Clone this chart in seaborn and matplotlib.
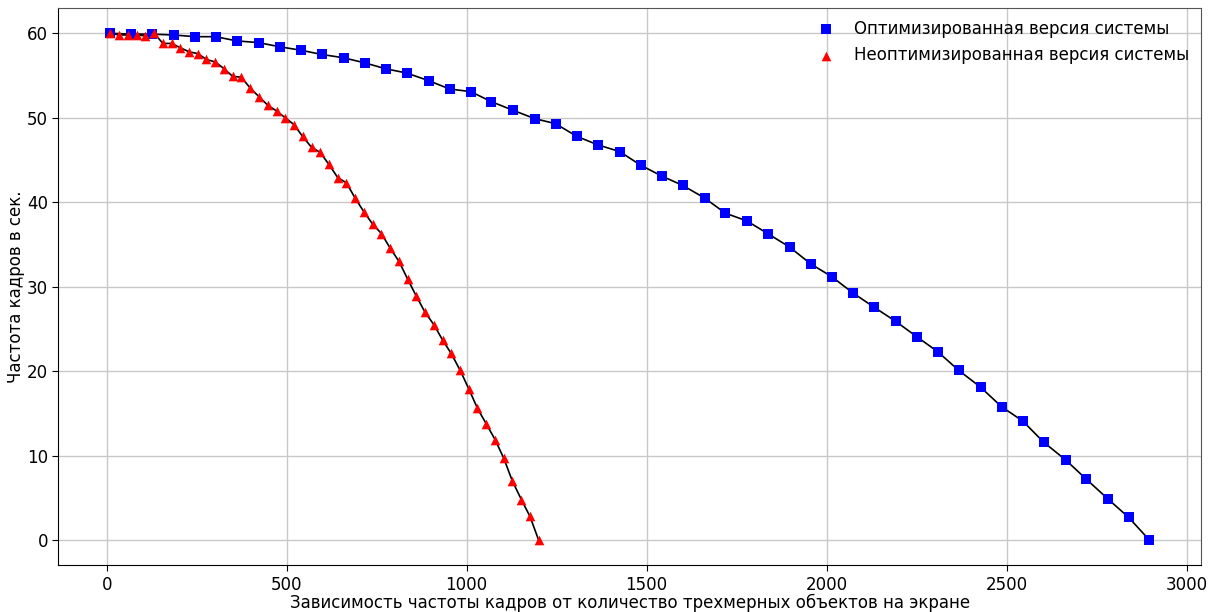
import matplotlib
matplotlib.use("Agg")
import matplotlib.pyplot as plt
import seaborn as sns
import pandas as pd

# Optimized version: (objects, fps)
opt_x = [10, 67, 125, 186, 245, 303, 361, 422, 481, 539, 597, 658, 717, 775, 833,
         894, 953, 1011, 1069, 1128, 1189, 1247, 1306, 1364, 1425, 1483, 1542, 1600,
         1661, 1719, 1778, 1836, 1897, 1956, 2014, 2072, 2131, 2192, 2250, 2309,
         2367, 2428, 2486, 2545, 2603, 2664, 2722, 2781, 2839, 2897]
opt_y = [60.0, 59.9, 59.9, 59.8, 59.6, 59.6, 59.1, 58.9, 58.4, 58.0, 57.5, 57.1,
         56.5, 55.8, 55.3, 54.4, 53.4, 53.1, 51.9, 50.9, 49.9, 49.3, 47.8, 46.8,
         46.0, 44.4, 43.1, 42.0, 40.5, 38.7, 37.8, 36.3, 34.7, 32.7, 31.2, 29.3,
         27.6, 25.9, 24.1, 22.3, 20.1, 18.1, 15.8, 14.1, 11.6, 9.5, 7.2, 4.9, 2.7, 0.0]

# Non-optimized version
raw_x = [10, 34, 59, 83, 107, 132, 156, 180, 204, 229, 253, 277, 302, 326, 350,
         374, 399, 423, 447, 472, 496, 520, 544, 569, 593, 617, 642, 666, 690, 714,
         739, 763, 787, 812, 836, 860, 884, 909, 933, 957, 982, 1006, 1030, 1054,
         1079, 1103, 1127, 1152, 1176, 1200]
raw_y = [60.0, 59.8, 59.8, 59.8, 59.7, 60.0, 58.8, 58.8, 58.3, 57.8, 57.6, 56.9,
         56.6, 55.8, 54.9, 54.8, 53.5, 52.5, 51.5, 50.8, 50.0, 49.2, 47.8, 46.5,
         45.9, 44.5, 42.9, 42.3, 40.5, 38.9, 37.4, 36.3, 34.6, 33.0, 30.9, 28.9,
         27.0, 25.5, 23.7, 22.1, 20.1, 17.9, 15.6, 13.8, 11.9, 9.7, 7.0, 4.8, 2.8, 0.0]

opt_label = "Оптимизированная версия системы"
raw_label = "Неоптимизированная версия системы"

sns.set_style("ticks")
plt.rcParams['font.family'] = ['DejaVu Sans']
plt.rcParams['font.size'] = 12
plt.rcParams['text.color'] = 'black'
plt.rcParams['axes.labelcolor'] = 'black'
plt.rcParams['xtick.color'] = 'black'
plt.rcParams['ytick.color'] = 'black'

opt_df = pd.DataFrame({"x": opt_x, "y": opt_y})
raw_df = pd.DataFrame({"x": raw_x, "y": raw_y})

fig, ax = plt.subplots(figsize=(12.16, 6.12), dpi=100)

# black connecting lines
sns.lineplot(data=opt_df, x="x", y="y", color="black", linewidth=1.2, ax=ax, zorder=2)
sns.lineplot(data=raw_df, x="x", y="y", color="black", linewidth=1.2, ax=ax, zorder=2)

# markers
sns.scatterplot(data=opt_df, x="x", y="y", marker="s", color="blue", s=42,
                edgecolor="blue", linewidth=0, label=opt_label, ax=ax, zorder=3)
sns.scatterplot(data=raw_df, x="x", y="y", marker="^", color="red", s=48,
                edgecolor="red", linewidth=0, label=raw_label, ax=ax, zorder=3)

ax.set_xticks([0, 500, 1000, 1500, 2000, 2500, 3000])
ax.set_yticks([0, 10, 20, 30, 40, 50, 60])
ax.grid(True, color="#c8c8c8", linewidth=1.0)
ax.set_axisbelow(True)
ax.tick_params(labelsize=12, length=4, colors="black")

for side in ["top", "right"]:
    ax.spines[side].set_color("#555555")
for side in ["left", "bottom"]:
    ax.spines[side].set_color("black")

ax.set_xlabel("Зависимость частоты кадров от количество трехмерных объектов на экране",
              fontsize=12, labelpad=0)
ax.set_ylabel("Частота кадров в сек.", fontsize=12, labelpad=1)

ax.legend(loc="upper right", frameon=False, fontsize=12, handletextpad=0.7,
          borderaxespad=0.3, markerscale=1.0)

fig.subplots_adjust(left=0.048, right=0.988, top=0.987, bottom=0.076)
fig.savefig("out.png", dpi=100)
